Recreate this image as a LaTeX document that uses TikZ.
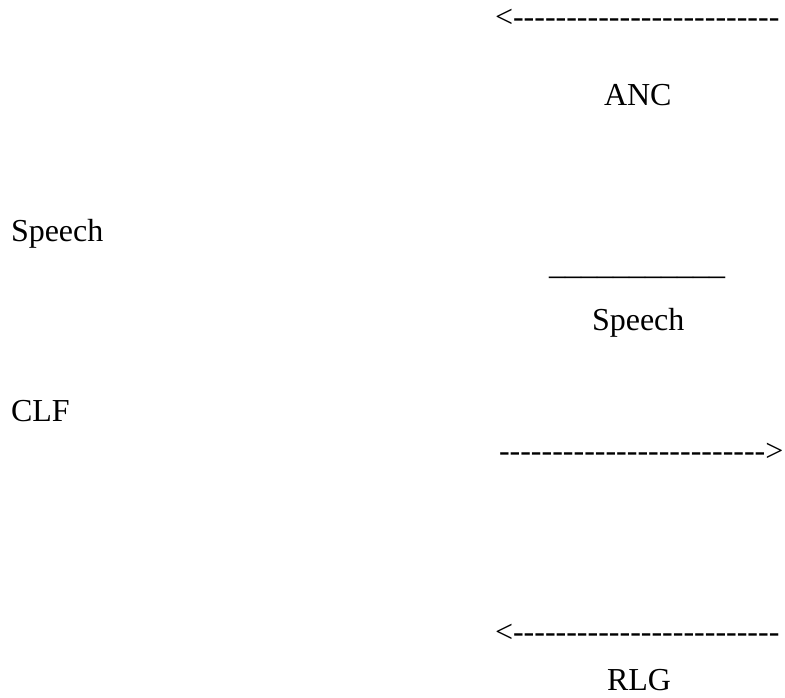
\documentclass[tikz,border=0pt]{standalone}
\usepackage{fontspec}
\setmainfont{Liberation Serif}
\newcommand\dfive{-\kern0pt-\kern0pt-\kern0pt-\kern0pt-\kern0pt}
\newcommand\dline{\dfive\dfive\dfive\dfive\dfive}
\newcommand\ufive{\_\_\_\_\_}
\begin{document}
\begin{tikzpicture}[x=1pt,y=1pt,
  lbl/.style={anchor=base west,inner sep=0pt,outer sep=0pt,font=\fontsize{32}{38}\selectfont}]
\useasboundingbox (0,0) rectangle (785,-698);
\node[lbl] (arrA) at (495,-28) {<\dline};
\node[lbl] (anc) at (604,-106) {ANC};
\node[lbl] (spL) at (11,-241) {Speech};
\node[lbl] (bar) at (549,-274) {\ufive\ufive\_};
\node[lbl] (spR) at (592,-330) {Speech};
\node[lbl] (clf) at (11,-421) {CLF};
\node[lbl] (arrB) at (499,-461) {\dline>};
\node[lbl] (arrC) at (495,-642) {<\dline};
\node[lbl] (rlg) at (607,-690) {RLG};
\end{tikzpicture}
\end{document}
